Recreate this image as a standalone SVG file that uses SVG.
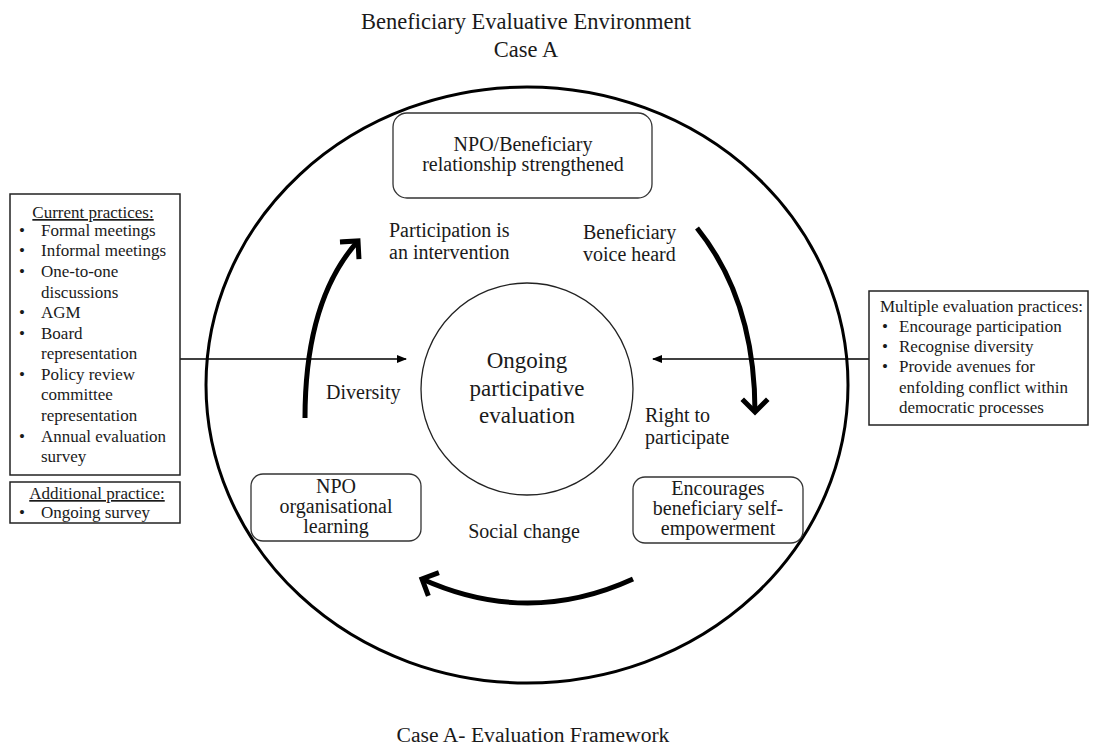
<svg xmlns="http://www.w3.org/2000/svg" width="1093" height="755" viewBox="0 0 1093 755">
<style>
text{font-family:"Liberation Serif","Times New Roman",serif;fill:#1a1a1a}
.t{font-size:22.5px}
.cap{font-size:21.6px}
.b{font-size:20px}
.c{font-size:23px}
.s{font-size:17px}
.box{fill:#fff;stroke:#222;stroke-width:1.5}
.rb{fill:#fff;stroke:#333;stroke-width:1.3}
.big{fill:none;stroke:#000;stroke-width:3}
.arc{fill:none;stroke:#000;stroke-width:5;marker-end:url(#chev)}
.ln{fill:none;stroke:#000;stroke-width:1.3;marker-end:url(#tri)}
</style>
<defs>
<marker id="chev" markerUnits="userSpaceOnUse" markerWidth="30" markerHeight="30" refX="15" refY="15" orient="auto" viewBox="0 0 30 30">
<path d="M4,4 L15,15 L4,26" fill="none" stroke="#000" stroke-width="5" stroke-linecap="square"/>
</marker>
<marker id="tri" markerUnits="userSpaceOnUse" markerWidth="10" markerHeight="8" refX="9" refY="4" orient="auto" viewBox="0 0 10 8">
<path d="M0,0 L10,4 L0,8 Z" fill="#000"/>
</marker>
</defs>
<g id="title">
<text class="t" x="526" y="29" text-anchor="middle">Beneficiary Evaluative Environment</text>
<text class="t" x="526" y="57" text-anchor="middle">Case A</text>
</g>
<g id="environment">
<ellipse class="big" cx="527" cy="385" rx="321" ry="298"/>
</g>
<g id="connectors">
<path class="arc" d="M305,418 Q305,300 358,241"/>
<path class="arc" d="M697,228 Q755,300 755,412"/>
<path class="arc" d="M633,579 Q528,627 422,579"/>
<path class="ln" d="M180,359 L406,359"/>
<path class="ln" d="M869,359 L653,359"/>
</g>
<g id="center">
<circle cx="527" cy="389" r="106" fill="none" stroke="#222" stroke-width="1.3"/>
<text class="c" x="527" y="368" text-anchor="middle">Ongoing</text>
<text class="c" x="527" y="396" text-anchor="middle">participative</text>
<text class="c" x="527" y="423" text-anchor="middle">evaluation</text>
</g>
<g id="relationship">
<rect class="rb" x="393" y="113" width="259" height="85" rx="14"/>
<text class="b" x="523" y="151" text-anchor="middle">NPO/Beneficiary</text>
<text class="b" x="523" y="171" text-anchor="middle">relationship strengthened</text>
</g>
<g id="learning">
<rect class="rb" x="251" y="474" width="170" height="67" rx="12"/>
<text class="b" x="336" y="493" text-anchor="middle">NPO</text>
<text class="b" x="336" y="513" text-anchor="middle">organisational</text>
<text class="b" x="336" y="533" text-anchor="middle">learning</text>
</g>
<g id="empowerment">
<rect class="rb" x="633" y="477" width="170" height="66" rx="12"/>
<text class="b" x="718" y="495" text-anchor="middle">Encourages</text>
<text class="b" x="718" y="515" text-anchor="middle">beneficiary self-</text>
<text class="b" x="718" y="535" text-anchor="middle">empowerment</text>
</g>
<g id="labels">
<text class="b" x="389" y="237">Participation is</text>
<text class="b" x="389" y="259">an intervention</text>
<text class="b" x="583" y="239">Beneficiary</text>
<text class="b" x="583" y="261">voice heard</text>
<text class="b" x="326" y="399">Diversity</text>
<text class="b" x="645" y="422">Right to</text>
<text class="b" x="645" y="444">participate</text>
<text class="b" x="524" y="538" text-anchor="middle">Social change</text>
</g>
<g id="current-practices">
<rect class="box" x="10" y="194" width="170" height="281"/>
<text class="s" x="93" y="218" text-anchor="middle" text-decoration="underline">Current practices:</text>
<text class="s" x="19" y="236">•</text><text class="s" x="41" y="236">Formal meetings</text>
<text class="s" x="19" y="256">•</text><text class="s" x="41" y="256">Informal meetings</text>
<text class="s" x="19" y="277">•</text><text class="s" x="41" y="277">One-to-one</text>
<text class="s" x="41" y="298">discussions</text>
<text class="s" x="19" y="318">•</text><text class="s" x="41" y="318">AGM</text>
<text class="s" x="19" y="339">•</text><text class="s" x="41" y="339">Board</text>
<text class="s" x="41" y="359">representation</text>
<text class="s" x="19" y="380">•</text><text class="s" x="41" y="380">Policy review</text>
<text class="s" x="41" y="400">committee</text>
<text class="s" x="41" y="421">representation</text>
<text class="s" x="19" y="442">•</text><text class="s" x="41" y="442">Annual evaluation</text>
<text class="s" x="41" y="462">survey</text>
</g>
<g id="additional-practice">
<rect class="box" x="10" y="482" width="170" height="41"/>
<text class="s" x="97" y="499" text-anchor="middle" text-decoration="underline">Additional practice:</text>
<text class="s" x="19" y="518">•</text><text class="s" x="41" y="518">Ongoing survey</text>
</g>
<g id="multiple-practices">
<rect class="box" x="869" y="291" width="219" height="134"/>
<text class="s" x="880" y="312">Multiple evaluation practices:</text>
<text class="s" x="882" y="332">•</text><text class="s" x="899" y="332">Encourage participation</text>
<text class="s" x="882" y="352">•</text><text class="s" x="899" y="352">Recognise diversity</text>
<text class="s" x="882" y="372">•</text><text class="s" x="899" y="372">Provide avenues for</text>
<text class="s" x="899" y="393">enfolding conflict within</text>
<text class="s" x="899" y="413">democratic processes</text>
</g>
<g id="caption">
<text class="cap" x="533" y="742" text-anchor="middle">Case A- Evaluation Framework</text>
</g>
</svg>
